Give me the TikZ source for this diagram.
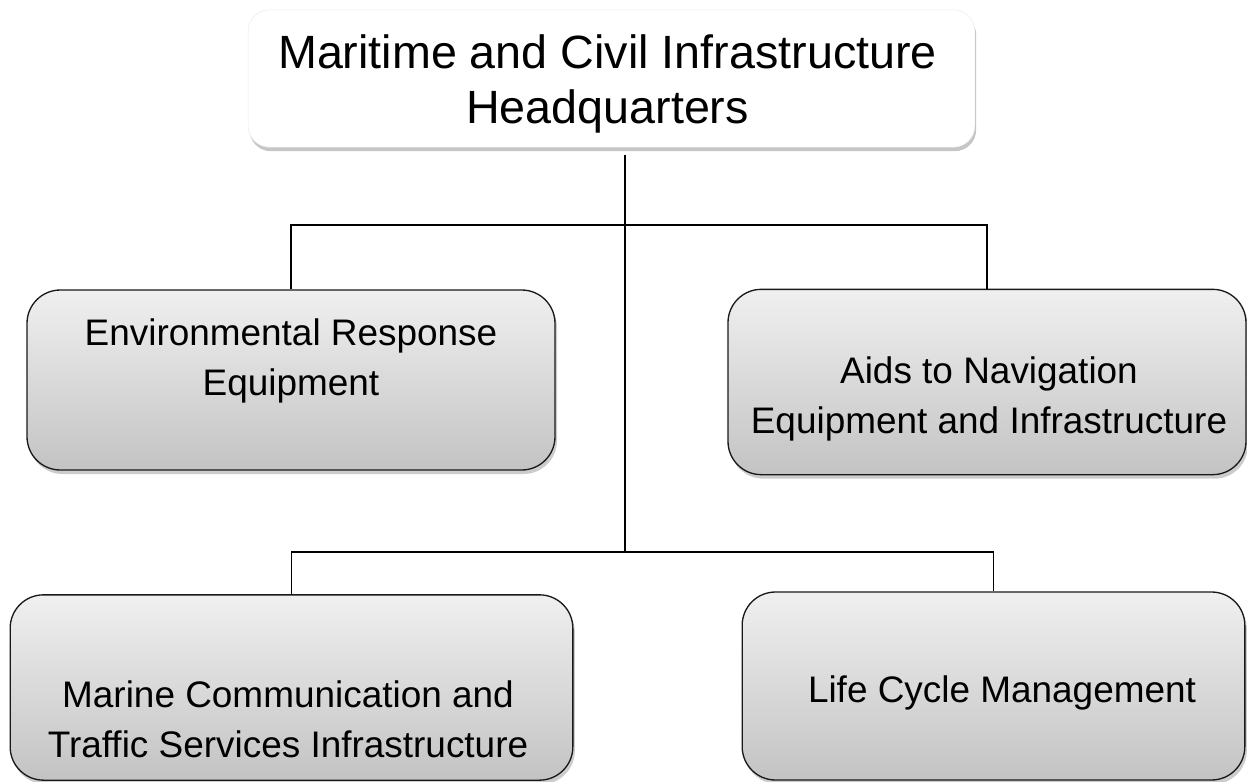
\documentclass[tikz,border=0pt]{standalone}
\usepackage{fontspec}
\setmainfont{Liberation Sans}
\usetikzlibrary{shadows}

\tikzset{
  headbox/.style={rounded corners=16pt, fill=white, draw=gray!15,
    drop shadow={shadow xshift=1pt, shadow yshift=-3pt, opacity=0.45}},
  unitbox/.style={rounded corners=25pt, draw=black!90, line width=1pt,
    top color=gray!12, bottom color=gray!47,
    drop shadow={shadow xshift=1.5pt, shadow yshift=-3pt, opacity=0.4}},
  headtext/.style={align=center, font=\fontsize{35}{41}\selectfont},
  unittext/.style={align=center, font=\fontsize{27.7}{37.5}\selectfont},
  link/.style={draw=black, line width=0.9pt}
}

\begin{document}
\begin{tikzpicture}[x=0.75pt,y=-0.75pt]

        \useasboundingbox (0,0) rectangle (1247,782);

        % boxes
        \node[headbox, minimum width=545pt, minimum height=103pt] (hq) at (611.5,78.5) {};
        \node[unitbox, minimum width=396pt, minimum height=135pt] (env) at (291,380) {};
        \node[unitbox, minimum width=388.5pt, minimum height=139pt] (aids) at (987,382) {};
        \node[unitbox, minimum width=422pt, minimum height=139pt] (marine) at (291.5,687.5) {};
        \node[unitbox, minimum width=377pt, minimum height=141pt] (life) at (993.5,686) {};

        % texts
        \node[headtext] (hq-text) at (607.5,84) {Maritime and Civil Infrastructure\\Headquarters};
        \node[unittext] (env-text) at (291,361) {Environmental Response\\Equipment};
        \node[unittext] (aids-text) at (989,399) {Aids to Navigation\\Equipment and Infrastructure};
        \node[unittext] (marine-text) at (288,719) {Marine Communication and\\Traffic Services Infrastructure};
        \node[unittext] (life-text) at (1002,693) {Life Cycle Management};

        % connectors
        \coordinate (upbar) at (625,225);
        \coordinate (lowbar) at (625,552);
        \coordinate (hq-foot) at (625,155);

        \path[link] (hq-foot) -- (lowbar);
        \path[link] (env.north) |- (upbar) -| (aids.north);
        \path[link] (marine.north) |- (lowbar) -| (life.north);

      \end{tikzpicture}
\end{document}
